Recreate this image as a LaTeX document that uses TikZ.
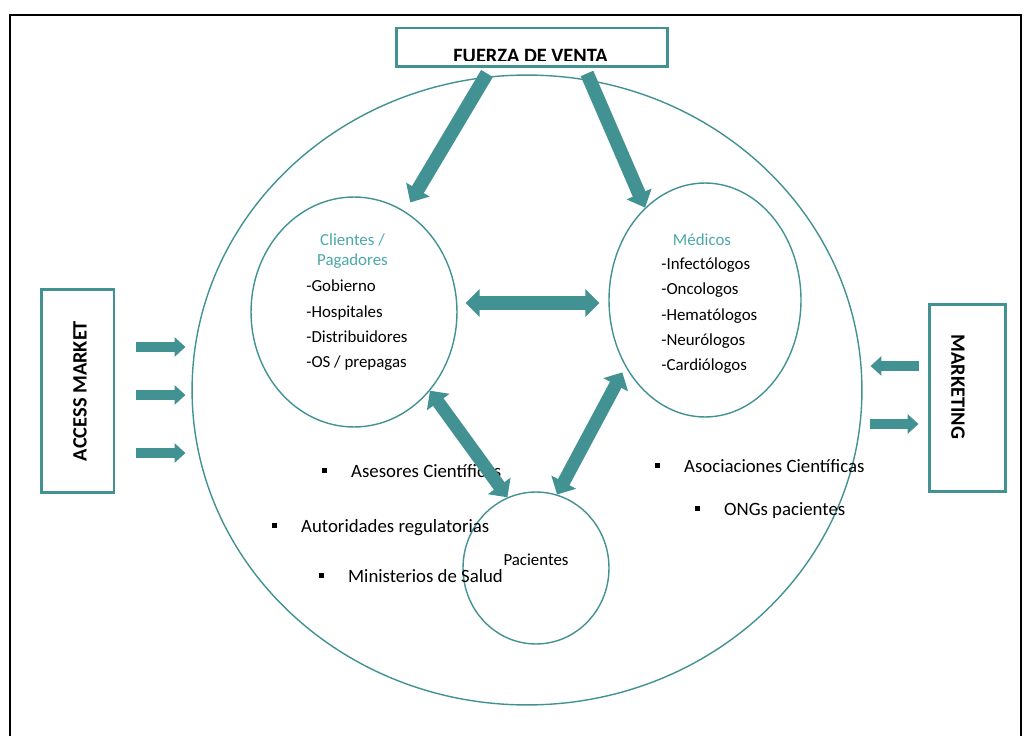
\documentclass[tikz,border=0pt]{standalone}
\usepackage{fontspec}
\setmainfont{Carlito}
\usetikzlibrary{shapes.geometric,arrows.meta,calc}
\definecolor{verde}{RGB}{66,146,148}
\definecolor{verdeclaro}{RGB}{75,168,170}
\newcommand{\vineta}{\raisebox{2.3pt}{\rule{2.8pt}{2.8pt}}\hspace{13.6pt}}
\tikzset{
  elipse/.style={draw=verde, line width=0.8pt, ellipse, inner sep=0pt},
  caja/.style={draw=verde, line width=1.7pt, inner sep=0pt},
  titulo/.style={font=\fontsize{11.6}{14}\selectfont\bfseries, inner sep=0pt},
  texto/.style={font=\fontsize{9.6}{12}\selectfont, inner sep=0pt, anchor=base west},
  punto/.style={font=\fontsize{10.7}{13}\selectfont, inner sep=0pt, anchor=base west},
  flecha/.style={draw=verde, line width=7.8pt, -{Triangle[length=8.5pt,width=15pt]}},
  doble/.style={draw=verde, line width=7.4pt, {Triangle[length=8pt,width=15.5pt]}-{Triangle[length=8pt,width=15.5pt]}},
  flechita/.style={draw=verde, line width=5.7pt, -{Triangle[length=6.2pt,width=10.8pt]}}
}
\begin{document}
\begin{tikzpicture}[x=0.02cm, y=-0.02cm]
\useasboundingbox (0,0) rectangle (1027,736);
\draw[line width=1.1pt] (10,745) -- (10,15) -- (1021,15) -- (1021,745);

\node[elipse, minimum width=13.4cm, minimum height=12.6cm] (entorno) at (527,390) {};
\node[elipse, minimum width=4.12cm, minimum height=4.6cm] (clientes) at (354,312) {};
\node[elipse, minimum width=3.84cm, minimum height=4.68cm] (medicos) at (705,300) {};
\node[elipse, minimum width=2.92cm, minimum height=3.04cm] (pacientes) at (536,568) {};

\node[caja, minimum width=5.44cm, minimum height=0.78cm] (fuerza) at (532,47.5) {};
\begin{scope}
\clip (fuerza.north west) rectangle ($(fuerza.south east)+(0,-8)$);
\node[titulo, anchor=base] at (530.5,63) {FUERZA DE VENTA};
\end{scope}
\node[caja, minimum width=1.46cm, minimum height=4.08cm] (access) at (77.5,391) {};
\node[titulo, rotate=90] at (80,391) {ACCESS MARKET};
\node[caja, minimum width=1.52cm, minimum height=3.76cm] (marketing) at (967,398) {};
\node[titulo, rotate=-90] at (958,387) {MARKETING};

\node[texto, anchor=base, text=verdeclaro] at (352.5,246) {Clientes /};
\node[texto, anchor=base, text=verdeclaro] at (352.5,266) {Pagadores};
\foreach \t [count=\i] in {-Gobierno,-Hospitales,-Distribuidores,{-OS / prepagas}}
  \node[texto] (cli\i) at (306,267+25*\i) {\t};
\node[texto, anchor=base, text=verdeclaro] at (702,246) {Médicos};
\foreach \t [count=\i] in {-Infectólogos,-Oncologos,-Hematólogos,-Neurólogos,-Cardiólogos}
  \node[texto] (med\i) at (661,245+25*\i) {\t};
\node[texto, anchor=base] (pac) at (536,565) {Pacientes};

\node[punto] (ase) at (322,477) {\vineta Asesores Científicas};
\node[punto] (aut) at (272,532) {\vineta Autoridades regulatorias};
\node[punto] (min) at (319,582) {\vineta Ministerios de Salud};
\node[punto] (aso) at (655,472) {\vineta Asociaciones Científicas};
\node[punto] (ong) at (695,515) {\vineta ONGs pacientes};

\draw[flecha] ($(fuerza.south)+(-45,5)$) -- ($(clientes.63)+(5,-9)$);
\draw[flecha] ($(fuerza.south)+(55,5)$) -- (medicos.123);
\draw[doble] ($(clientes.east)+(8,-9)$) -- ($(medicos.west)+(-9,3)$);
\draw[doble] (clientes.-46) -- (pacientes.112);
\draw[doble] ($(medicos.221)+(-4,4)$) -- (pacientes.74);
\foreach \dy in {-44,4,62}
  \draw[flechita] ($(access.east)+(21,\dy)$) -- ++(49,0);
\draw[flechita] ($(marketing.west)+(-9,-32)$) -- ++(-48,0);
\draw[flechita] ($(marketing.west)+(-58,26)$) -- ++(49,0);
\end{tikzpicture}
\end{document}
